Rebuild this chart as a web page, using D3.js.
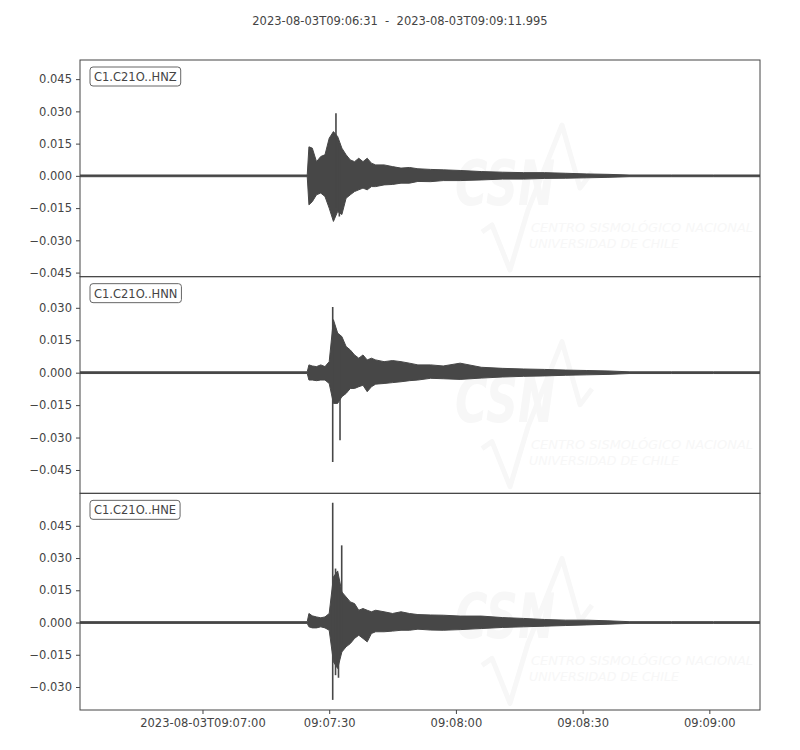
<!DOCTYPE html>
<html>
<head>
<meta charset="utf-8">
<script src="https://cdn.jsdelivr.net/npm/d3@7"></script>
<style>
  body { margin: 0; background: #fff; }
  text { font-family: "DejaVu Sans", sans-serif; fill: #444; }
</style>
</head>
<body>
<div class="seismo"></div>
<script>
//Canvas dimensions and plot box
var width = 800,
    height = 750;

var margin = { top: 60, bottom: 40, left: 80, right: 40 };

var title = "2023-08-03T09:06:31  -  2023-08-03T09:09:11.995";
var startTime = new Date(Date.UTC(2023, 7, 3, 9, 6, 31));
var duration = 160.995; // seconds

//Channels, one per panel
var channels = ["C1.C21O..HNZ", "C1.C21O..HNN", "C1.C21O..HNE"];
var yLimits = [[-0.0469, 0.0539], [-0.0558, 0.0444], [-0.0407, 0.0601]];
var yTicks = [
  [-0.045, -0.030, -0.015, 0, 0.015, 0.030, 0.045],
  [-0.045, -0.030, -0.015, 0, 0.015, 0.030],
  [-0.030, -0.015, 0, 0.015, 0.030, 0.045]
];

//X ticks
var xTickSeconds = [29, 59, 89, 119, 149];
var xTickLabels = ["2023-08-03T09:07:00", "09:07:30", "09:08:00", "09:08:30", "09:09:00"];

//Envelope of the traces (seconds after start, upper and lower amplitude)
var envTime = [0, 53.8, 54.2, 55, 56, 57, 58, 59, 60, 61, 62, 63, 64, 65, 66, 67, 68, 69, 70,
               72, 74, 76, 78, 80, 83, 86, 90, 95, 100, 105, 110, 115, 120, 125, 130, 140, 150, 160.995];

var hnzMax = [0.0004, 0.0004, 0.0135, 0.0129, 0.0066, 0.0090, 0.0098, 0.0175, 0.0206, 0.0183, 0.0129, 0.0098, 0.0074, 0.0066, 0.0082, 0.0066, 0.0082, 0.0059, 0.0051,
              0.0051, 0.0043, 0.0036, 0.0039, 0.0033, 0.0030, 0.0028, 0.0025, 0.0020, 0.0017, 0.0015, 0.0015, 0.0012, 0.0009, 0.0007, 0.0004, 0.0004, 0.0004, 0.0004];
var hnzMin = [-0.0004, -0.0004, -0.0135, -0.0120, -0.0088, -0.0080, -0.0096, -0.0150, -0.0212, -0.0166, -0.0180, -0.0104, -0.0088, -0.0073, -0.0065, -0.0057, -0.0065, -0.0050, -0.0050,
              -0.0042, -0.0040, -0.0034, -0.0034, -0.0026, -0.0027, -0.0022, -0.0022, -0.0019, -0.0015, -0.0015, -0.0012, -0.0011, -0.0009, -0.0007, -0.0004, -0.0004, -0.0004, -0.0004];

var hnnMax = [0.0004, 0.0004, 0.0036, 0.0031, 0.0028, 0.0036, 0.0028, 0.0051, 0.0245, 0.0183, 0.0167, 0.0121, 0.0105, 0.0082, 0.0067, 0.0082, 0.0059, 0.0067, 0.0059,
              0.0051, 0.0056, 0.0051, 0.0044, 0.0036, 0.0036, 0.0031, 0.0044, 0.0025, 0.0020, 0.0017, 0.0015, 0.0012, 0.0010, 0.0008, 0.0004, 0.0004, 0.0004, 0.0004];
var hnnMin = [-0.0004, -0.0004, -0.0034, -0.0034, -0.0037, -0.0034, -0.0034, -0.0050, -0.0142, -0.0142, -0.0111, -0.0096, -0.0073, -0.0073, -0.0065, -0.0058, -0.0088, -0.0065, -0.0053,
              -0.0050, -0.0046, -0.0042, -0.0037, -0.0034, -0.0026, -0.0028, -0.0031, -0.0025, -0.0020, -0.0017, -0.0015, -0.0012, -0.0010, -0.0008, -0.0004, -0.0004, -0.0004, -0.0004];

var hneMax = [0.0004, 0.0004, 0.0042, 0.0031, 0.0026, 0.0022, 0.0026, 0.0042, 0.0212, 0.0240, 0.0142, 0.0119, 0.0096, 0.0088, 0.0057, 0.0065, 0.0057, 0.0050, 0.0057,
              0.0050, 0.0042, 0.0050, 0.0042, 0.0037, 0.0035, 0.0034, 0.0030, 0.0030, 0.0023, 0.0019, 0.0014, 0.0011, 0.0011, 0.0008, 0.0004, 0.0004, 0.0004, 0.0004];
var hneMin = [-0.0004, -0.0004, -0.0020, -0.0025, -0.0025, -0.0020, -0.0025, -0.0036, -0.0183, -0.0214, -0.0137, -0.0113, -0.0098, -0.0074, -0.0059, -0.0074, -0.0090, -0.0051, -0.0043,
              -0.0043, -0.0040, -0.0036, -0.0036, -0.0031, -0.0035, -0.0036, -0.0033, -0.0028, -0.0023, -0.0020, -0.0017, -0.0014, -0.0011, -0.0008, -0.0004, -0.0004, -0.0004, -0.0004];

//Single large excursions (seconds, upper, lower)
var hnzSpikes = [[60.6, 0.0291, -0.0150], [61.4, 0.0150, -0.0189]];
var hnnSpikes = [[59.83, 0.0304, -0.0413], [61.56, 0.0120, -0.0313]];
var hneSpikes = [[59.83, 0.0557, -0.0360], [60.5, 0.0251, -0.0245], [61.2, 0.0200, -0.0257], [61.96, 0.0359, -0.0100]];

var envMax = [hnzMax, hnnMax, hneMax];
var envMin = [hnzMin, hnnMin, hneMin];
var spikes = [hnzSpikes, hnnSpikes, hneSpikes];

var traceColor = "#474747";
var axisColor = "#444";
var markColor = "#f7f7f7";
var fontSize = "11.5px";

var svg = d3.select(".seismo")
            .append("svg")
            .attr("width", width)
            .attr("height", height);

var innerW = width - margin.left - margin.right;
var innerH = height - margin.top - margin.bottom;
var panelH = innerH / channels.length;

function secToDate(s) { return new Date(startTime.getTime() + s * 1000); }

var x = d3.scaleUtc()
          .domain([startTime, secToDate(duration)])
          .range([margin.left, margin.left + innerW]);

var fmt = d3.format(".3f");
function yFormat(d) { return d < -1e-9 ? "\u2212" + fmt(-d) : fmt(Math.abs(d)); }

//Title
svg.append("text")
   .attr("x", width / 2)
   .attr("y", 25)
   .attr("text-anchor", "middle")
   .style("font-size", fontSize)
   .style("white-space", "pre")
   .text(title);

channels.forEach(function(ch, i) {
  var top = margin.top + i * panelH;
  var y = d3.scaleLinear().domain(yLimits[i]).range([top + panelH, top]);

  var g = svg.append("g").attr("class", "panel");

  g.append("clipPath").attr("id", "clip" + i)
   .append("rect").attr("x", margin.left).attr("y", top).attr("width", innerW).attr("height", panelH);

  //faint logo watermark
  var wm = g.append("g").attr("clip-path", "url(#clip" + i + ")");
  wm.append("path")
    .attr("d", "M482," + (top + 172) + " L492," + (top + 165) + " L510," + (top + 210) +
               " L528," + (top + 150) + " L562," + (top + 65) + " L580," + (top + 128) +
               " L592," + (top + 112))
    .attr("fill", "none").attr("stroke", markColor).attr("stroke-width", 5).attr("stroke-linejoin", "round");
  wm.append("text").attr("x", 455).attr("y", top + 145)
    .attr("textLength", 100).attr("lengthAdjust", "spacingAndGlyphs")
    .style("font-size", "62px").style("font-weight", "bold").style("font-style", "italic")
    .style("fill", markColor).text("CSN");
  wm.append("text").attr("x", 531).attr("y", top + 172)
    .attr("textLength", 222).attr("lengthAdjust", "spacingAndGlyphs")
    .style("font-size", "13px").style("font-style", "italic").style("fill", markColor)
    .text("CENTRO SISMOLÓGICO NACIONAL");
  wm.append("text").attr("x", 529).attr("y", top + 188)
    .attr("textLength", 150).attr("lengthAdjust", "spacingAndGlyphs")
    .style("font-size", "13px").style("font-style", "italic").style("fill", markColor)
    .text("UNIVERSIDAD DE CHILE");

  //trace envelope
  var env = envTime.map(function(t, k) { return { t: t, hi: envMax[i][k], lo: envMin[i][k] }; });
  var area = d3.area()
               .x(function(d) { return x(secToDate(d.t)); })
               .y0(function(d) { return y(d.lo); })
               .y1(function(d) { return y(d.hi); });

  var tr = g.append("g").attr("clip-path", "url(#clip" + i + ")");
  tr.append("path")
    .datum(env)
    .attr("d", area)
    .attr("fill", traceColor)
    .attr("stroke", traceColor)
    .attr("stroke-width", 1)
    .attr("stroke-linejoin", "round");

  tr.selectAll(".spike")
    .data(spikes[i])
    .enter()
    .append("line")
    .attr("class", "spike")
    .attr("x1", function(d) { return x(secToDate(d[0])); })
    .attr("x2", function(d) { return x(secToDate(d[0])); })
    .attr("y1", function(d) { return y(d[1]); })
    .attr("y2", function(d) { return y(d[2]); })
    .attr("stroke", traceColor)
    .attr("stroke-width", 1.6);

  //y axis
  var ya = g.append("g")
            .attr("transform", "translate(" + margin.left + ",0)")
            .call(d3.axisLeft(y).tickValues(yTicks[i]).tickFormat(yFormat).tickSize(4).tickPadding(4));
  ya.select(".domain").remove();
  ya.selectAll("line").attr("stroke", axisColor);
  ya.selectAll("text").style("font-size", fontSize).style("font-family", "DejaVu Sans").attr("fill", axisColor);

  //frame
  g.append("rect")
   .attr("x", margin.left).attr("y", top)
   .attr("width", innerW).attr("height", panelH)
   .attr("fill", "none").attr("stroke", axisColor).attr("stroke-width", 1);

  //channel label box
  var lb = g.append("g");
  var lt = lb.append("text")
             .attr("x", margin.left + 14)
             .attr("y", top + 21)
             .style("font-size", fontSize)
             .text(ch);
  var tw = lt.node().getComputedTextLength();
  lb.insert("rect", "text")
    .attr("x", margin.left + 10).attr("y", top + 7)
    .attr("width", tw + 8).attr("height", 19)
    .attr("rx", 3)
    .attr("fill", "#fff").attr("stroke", "#666").attr("stroke-width", 1);

  if (i === channels.length - 1) {
    var xa = svg.append("g")
                .attr("transform", "translate(0," + (top + panelH) + ")")
                .call(d3.axisBottom(x)
                        .tickValues(xTickSeconds.map(secToDate))
                        .tickFormat(function(d, k) { return xTickLabels[k]; })
                        .tickSize(4).tickPadding(5));
    xa.select(".domain").remove();
    xa.selectAll("line").attr("stroke", axisColor);
    xa.selectAll("text").style("font-size", fontSize).style("font-family", "DejaVu Sans").attr("fill", axisColor);
  }
});
</script>
</body>
</html>
